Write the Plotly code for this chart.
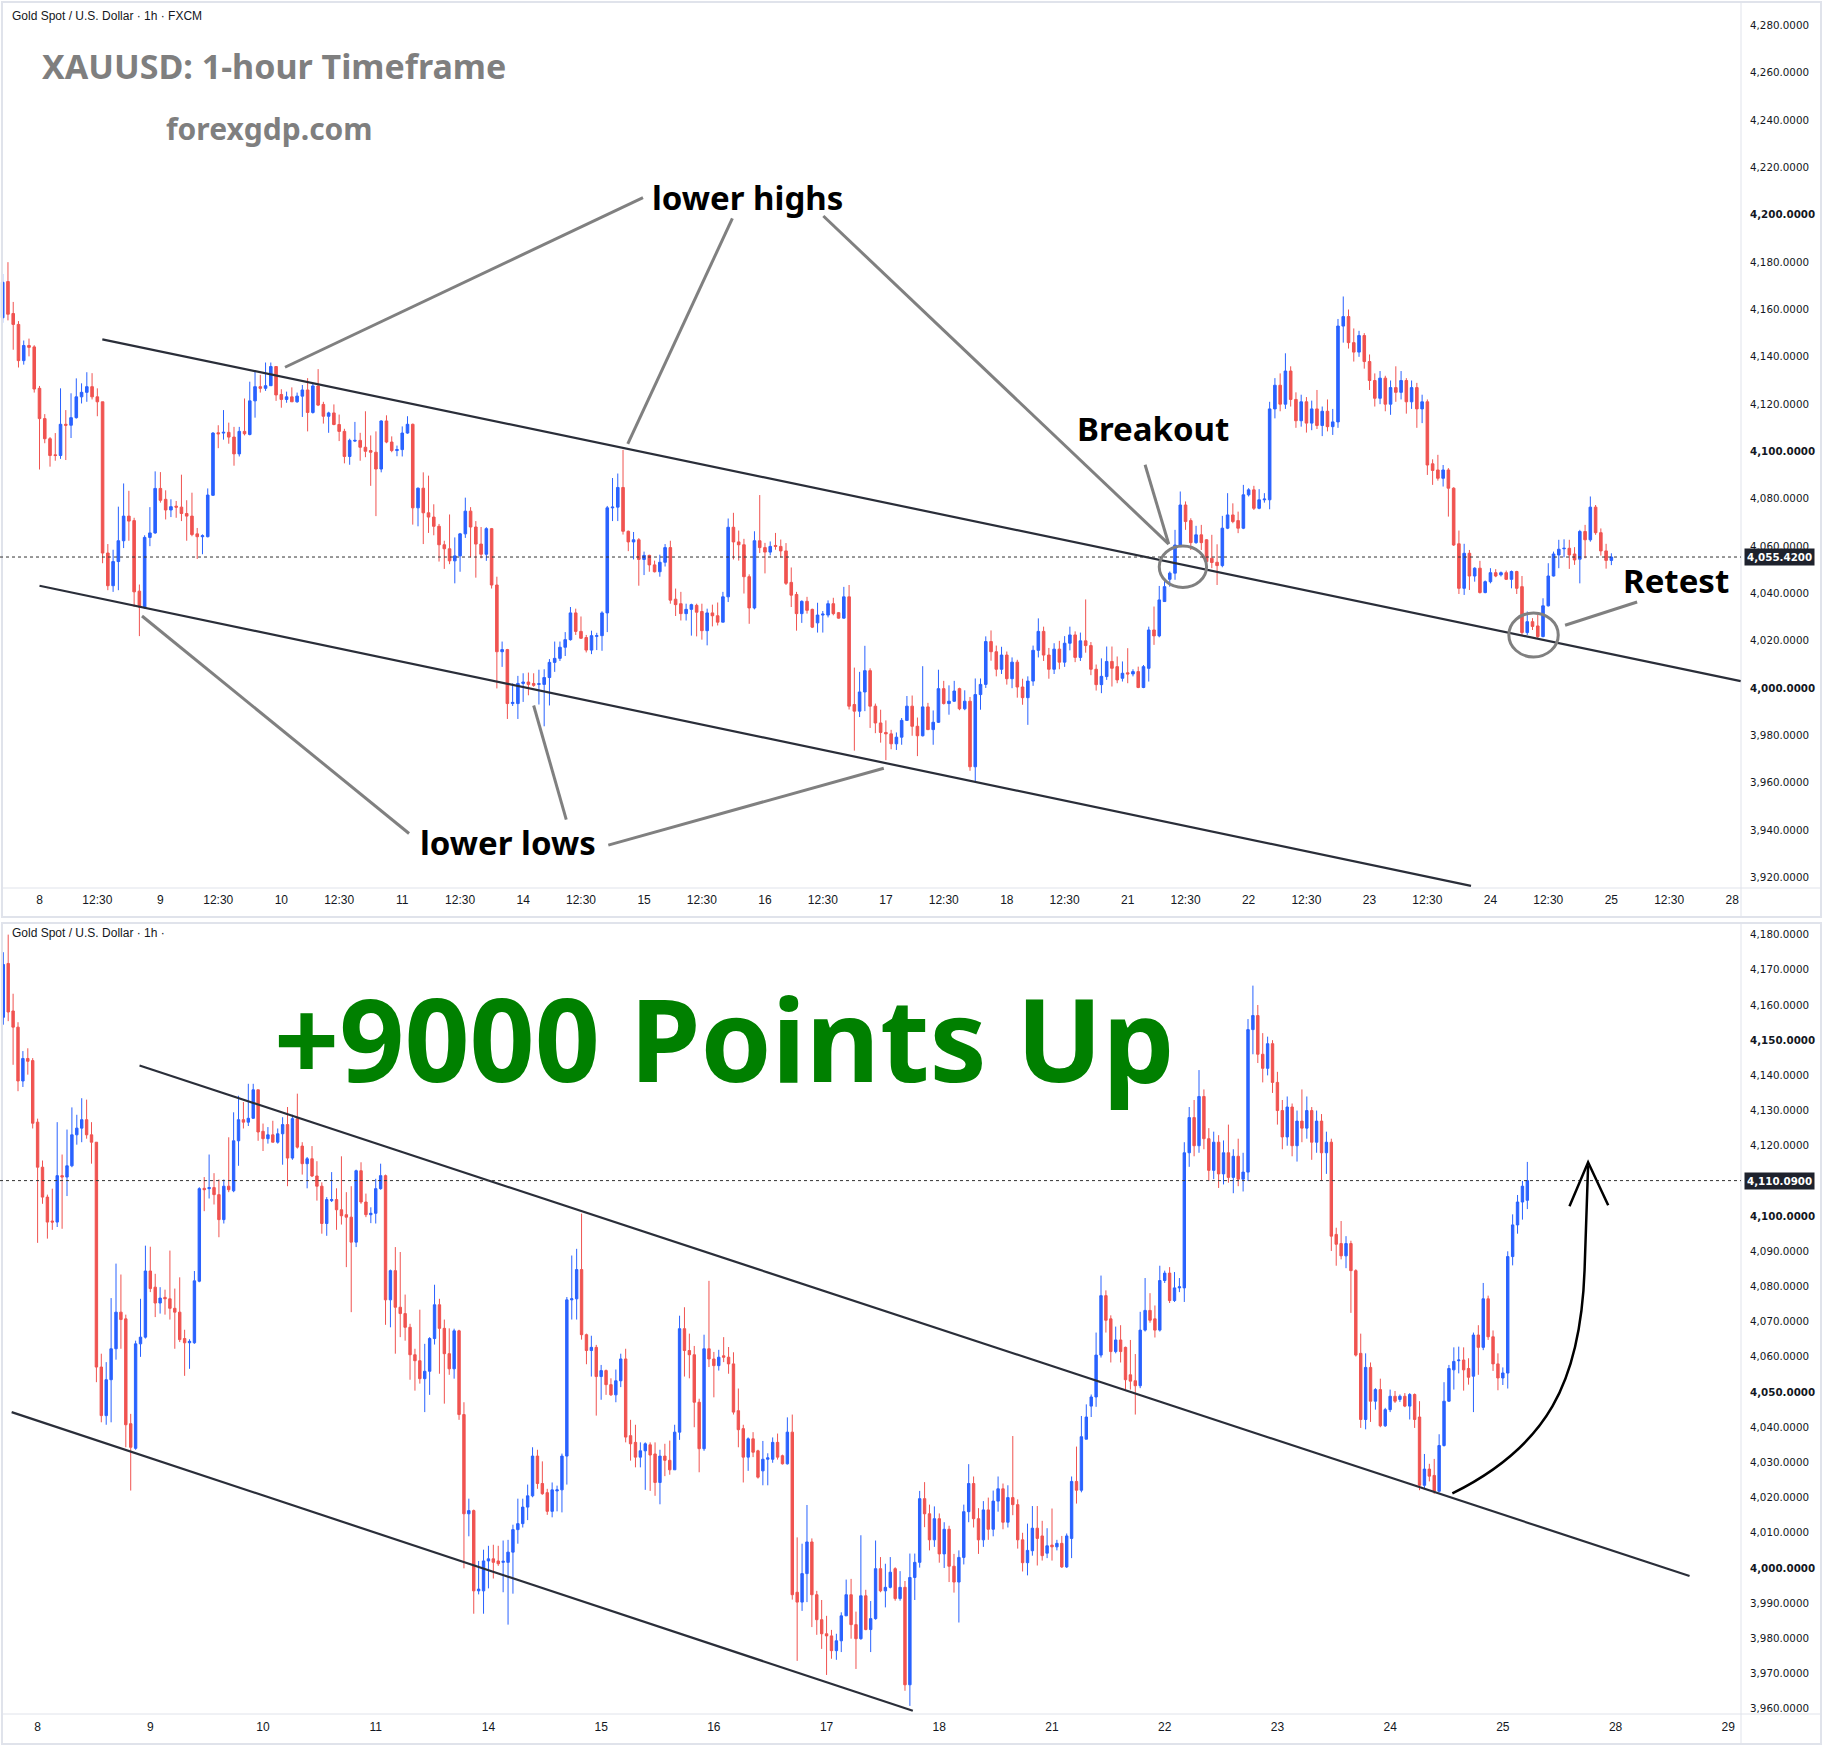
import plotly.graph_objects as go

# ---------------- DATA (1h XAUUSD candles, bar index 0 = first visible bar) ----------------
open_ = [4156.5,4171.8,4158.3,4153.7,4138.4,4144.8,4144.2,4126.7,4113.9,4105.4,
         4098.6,4098.3,4111.5,4111.1,4114.3,4123.1,4125.0,4127.4,4123.1,4121.0,
         4057.1,4043.3,4053.5,4062.3,4072.7,4070.8,4041.0,4034.0,4063.7,4065.6,
         4084.4,4079.8,4075.3,4076.9,4076.5,4073.8,4072.7,4065.2,4064.0,4064.0,
         4081.5,4107.9,4107.8,4108.1,4106.1,4099.0,4108.5,4107.2,4121.4,4127.4,
         4126.7,4127.8,4135.9,4124.1,4122.0,4123.1,4121.0,4123.4,4126.0,4116.5,
         4127.7,4119.9,4114.9,4116.3,4111.4,4108.5,4097.9,4104.4,4104.7,4101.8,
         4100.4,4099.7,4092.6,4112.9,4104.0,4100.4,4100.8,4107.8,4111.5,4076.2,
         4084.5,4074.1,4072.3,4068.4,4060.6,4058.9,4053.8,4055.9,4065.2,4074.8,
         4068.1,4060.9,4056.6,4067.4,4043.6,4015.4,4016.3,3993.5,3993.5,4002.0,
         4002.6,4002.0,4001.6,4001.6,4004.5,4010.9,4012.6,4017.3,4020.5,4031.8,
         4024.0,4021.4,4016.1,4021.9,4022.2,4031.8,4076.2,4076.5,4084.8,4066.3,
         4061.8,4062.7,4054.4,4056.1,4052.1,4049.2,4053.2,4059.4,4037.6,4035.7,
         4031.5,4033.3,4035.0,4032.4,4024.3,4031.8,4030.6,4027.9,4038.6,4068.0,
         4061.8,4060.6,4047.1,4033.9,4062.3,4059.4,4057.5,4060.3,4059.9,4058.0,
         4044.7,4039.6,4031.5,4036.7,4033.3,4027.6,4030.9,4030.9,4035.7,4031.9,
         4029.6,4038.6,3993.1,3990.3,3998.4,4007.4,3992.4,3985.3,3981.3,3980.7,
         3976.5,3979.3,3986.4,3992.4,3983.9,3979.9,3992.1,3982.5,3985.6,3999.8,
         3993.5,3994.5,3999.8,3991.3,3994.5,3966.8,3997.3,4001.6,4019.7,
         4015.4,4008.0,4014.0,4004.0,4011.0,4000.5,3996.0,4003.0,4016.0,4024.0,
         4014.0,4008.0,4016.5,4011.0,4019.0,4022.5,4013.0,4020.0,4018.0,4008.0,
         4001.5,4004.9,4011.3,4009.1,4004.2,4006.5,4006.0,4007.0,4000.3,4008.4,
         4024.6,4022.1,4036.6,4046.0,4048.6,4060.5,4077.4,4070.8,4061.5,4064.8,
         4062.7,4054.9,4053.2,4051.8,4067.6,4073.2,4070.8,4067.6,4081.7,4083.8,
         4076.0,4079.6,4079.6,4118.0,4128.0,4120.0,4134.0,4122.0,4113.0,4121.0,
         4112.0,4118.0,4111.0,4117.0,4110.5,4112.5,4153.0,4157.0,4146.0,4142.0,
         4149.0,4138.0,4130.0,4122.5,4131.0,4120.0,4127.0,4125.0,4130.0,4121.0,
         4127.0,4118.0,4121.0,4094.8,4092.2,4088.7,4092.2,4084.5,4061.0,4042.2,
         4057.0,4047.4,4050.7,4040.4,4045.0,4048.8,4047.9,4048.8,4046.0,4049.3,
         4042.9,4023.5,4028.1,4026.3,4021.8,4034.8,4047.4,4056.3,4058.9,4059.1,
         4056.7,4054.5,4066.2,4062.7,4076.5,4065.7,4058.0,4054.0,4055.4,4088.5,
         4097.5,4104.0,4104.5]
high_ = [4175.0,4180.0,4163.2,4155.1,4146.9,4147.7,4144.9,4127.7,4115.8,4106.1,
         4107.8,4126.7,4117.5,4124.6,4130.9,4128.8,4133.5,4133.1,4126.7,4121.0,
         4060.9,4058.5,4076.7,4086.5,4083.4,4072.0,4043.8,4064.6,4076.5,4091.6,
         4091.3,4083.6,4079.8,4079.1,4090.2,4079.4,4082.6,4067.7,4065.0,4084.4,
         4108.2,4111.1,4117.5,4112.2,4110.4,4110.4,4122.4,4129.5,4134.2,4132.4,
         4137.6,4137.6,4135.9,4126.3,4125.3,4127.1,4124.9,4128.1,4131.0,4128.8,
         4134.8,4121.0,4116.8,4119.9,4115.6,4109.6,4105.4,4112.5,4107.9,4117.0,
         4106.8,4108.5,4113.2,4115.3,4106.4,4102.5,4110.6,4114.9,4111.8,4084.8,
         4091.2,4089.8,4077.7,4069.4,4062.3,4073.4,4063.7,4065.6,4080.5,4076.5,
         4070.6,4068.1,4068.0,4067.7,4047.1,4019.7,4016.6,4002.0,4005.2,4006.3,
         4006.6,4006.3,4007.8,4008.0,4012.3,4019.7,4019.7,4023.7,4034.3,4033.6,
         4030.3,4022.5,4024.3,4023.4,4032.5,4077.0,4088.8,4090.7,4100.7,4066.6,
         4066.0,4063.4,4057.7,4056.4,4053.9,4056.4,4060.9,4062.3,4042.1,4040.7,
         4035.7,4035.7,4035.7,4035.7,4033.6,4035.3,4036.2,4040.7,4071.7,4074.1,
         4066.6,4063.1,4048.1,4066.3,4081.6,4061.4,4062.0,4065.6,4062.8,4061.3,
         4051.0,4040.7,4037.1,4038.6,4033.6,4036.1,4032.6,4037.1,4038.2,4032.2,
         4042.8,4043.6,4008.7,4006.9,4017.9,4008.4,3993.5,3990.9,3986.4,3982.4,
         3981.3,3987.4,3996.7,3996.9,3987.6,4009.3,3993.8,3990.6,4007.8,4003.1,
         4001.2,4003.1,4000.2,3999.1,3996.3,4004.1,4004.1,4021.9,4024.4,
         4018.0,4017.5,4015.5,4013.0,4012.0,4004.0,4005.0,4018.0,4029.5,4026.0,
         4017.0,4019.0,4020.0,4022.0,4026.0,4024.0,4023.5,4037.5,4019.5,4010.0,
         4012.6,4017.6,4017.6,4013.4,4011.3,4016.9,4008.0,4009.1,4009.8,4026.0,
         4034.5,4043.2,4046.5,4049.3,4066.9,4083.1,4078.9,4071.8,4068.6,4069.0,
         4062.9,4064.8,4060.8,4072.8,4082.4,4078.1,4074.6,4085.9,4084.5,4085.5,
         4084.1,4082.4,4121.0,4131.0,4133.0,4141.5,4136.0,4125.0,4124.0,4123.0,
         4121.5,4126.0,4119.0,4122.0,4118.0,4156.0,4165.5,4160.0,4152.0,4151.0,
         4150.0,4141.0,4133.0,4134.0,4132.0,4130.0,4136.0,4134.0,4131.0,4130.0,
         4129.0,4124.0,4122.0,4096.7,4098.6,4094.3,4093.0,4084.9,4066.6,4061.0,
         4058.4,4051.1,4053.8,4045.5,4050.7,4050.3,4049.3,4049.7,4049.7,4049.6,
         4047.4,4032.4,4029.6,4031.0,4038.0,4052.8,4057.7,4062.7,4062.9,4062.7,
         4059.6,4066.9,4069.0,4081.0,4077.4,4067.5,4061.0,4057.0,4090.0,4100.5,
         4106.0,4110.0,4115.4]
low_ = [4154.4,4155.4,4143.0,4135.5,4136.7,4140.2,4124.9,4092.4,4103.5,4093.6,
        4096.1,4096.9,4096.4,4105.7,4113.9,4120.3,4121.0,4122.0,4114.9,4052.8,
        4041.4,4040.7,4041.4,4059.2,4062.3,4034.3,4022.0,4033.6,4060.0,4065.2,
        4078.4,4071.3,4072.3,4072.0,4070.6,4062.3,4064.2,4054.6,4056.6,4063.7,
        4081.2,4101.4,4105.0,4103.3,4094.0,4097.9,4106.8,4106.8,4114.3,4124.9,
        4125.6,4127.7,4121.4,4118.5,4120.6,4121.0,4120.6,4114.6,4108.5,4116.0,
        4119.2,4111.8,4107.9,4111.1,4104.4,4095.0,4094.4,4104.0,4096.1,4097.6,
        4085.5,4072.7,4091.2,4103.5,4099.7,4098.0,4097.9,4107.5,4069.1,4068.4,
        4060.9,4065.6,4064.6,4053.5,4050.4,4052.4,4044.3,4049.2,4063.5,4055.2,
        4046.7,4054.9,4053.8,4042.1,3999.9,4009.0,3987.0,3992.5,3987.0,3994.2,
        3997.0,4000.6,3993.1,3983.9,3992.7,4006.9,4011.5,4013.6,4020.1,4022.5,
        4020.8,4015.1,4014.4,4016.1,4015.8,4023.7,4070.6,4070.6,4064.9,4057.9,
        4054.4,4043.3,4047.8,4049.2,4048.9,4047.1,4051.4,4035.7,4030.5,4028.6,
        4028.6,4022.2,4021.9,4020.5,4018.1,4026.1,4026.5,4027.9,4036.4,4054.4,
        4053.9,4040.0,4027.2,4033.3,4057.1,4048.5,4056.1,4058.5,4055.2,4043.6,
        4034.3,4024.3,4027.6,4031.5,4025.4,4023.5,4023.5,4029.9,4030.8,4029.4,
        4029.4,3991.0,3973.6,3987.8,3990.3,3983.2,3981.0,3977.0,3969.6,3974.2,
        3973.9,3976.1,3986.4,3979.9,3971.3,3979.6,3982.3,3976.1,3985.3,3993.1,
        3988.8,3994.2,3990.7,3990.7,3965.1,3960.8,3990.9,4000.1,4011.6,
        4005.0,4006.0,4001.5,4000.0,3996.0,3993.0,3984.5,4001.0,4013.0,4011.5,
        4004.0,4006.0,4008.0,4009.0,4016.0,4011.0,4011.5,4015.0,4005.5,3999.0,
        3997.9,4003.5,4000.7,4002.1,4002.8,4002.1,4005.0,4000.0,4000.0,4002.8,
        4018.3,4021.5,4036.6,4042.9,4045.8,4059.8,4066.9,4058.4,4061.0,4058.4,
        4050.7,4050.7,4043.6,4051.1,4067.2,4069.7,4065.5,4067.2,4081.0,4075.3,
        4075.6,4078.4,4075.6,4114.0,4117.0,4118.0,4119.0,4110.0,4110.5,4108.0,
        4109.0,4109.5,4106.5,4108.5,4107.0,4110.0,4146.0,4143.5,4138.0,4140.0,
        4135.0,4126.0,4119.0,4120.0,4117.0,4115.5,4121.0,4122.0,4116.0,4118.0,
        4110.0,4112.0,4090.1,4085.9,4087.7,4085.2,4072.5,4060.1,4039.8,4039.4,
        4041.5,4045.0,4040.0,4040.1,4044.3,4046.9,4047.2,4045.7,4042.2,4039.8,
        4022.1,4022.5,4024.6,4021.1,4021.5,4034.5,4047.2,4050.7,4055.3,4050.4,
        4052.1,4044.3,4054.9,4061.9,4064.8,4056.0,4050.5,4052.0,4051.0,4086.0,
        4095.0,4099.0,4102.0]
close_ = [4171.5,4158.0,4153.7,4138.4,4144.8,4144.0,4126.4,4113.9,4105.4,4098.3,
          4098.3,4111.5,4111.1,4114.3,4123.1,4125.0,4127.4,4123.1,4121.0,4057.1,
          4043.3,4053.5,4062.3,4072.7,4070.6,4040.7,4034.3,4063.7,4065.6,4084.4,
          4079.4,4075.3,4076.7,4076.5,4073.8,4072.7,4064.9,4064.0,4064.4,4081.6,
          4107.8,4107.5,4108.1,4106.1,4099.0,4108.5,4107.5,4121.4,4127.4,4126.7,
          4127.8,4135.9,4123.9,4122.0,4123.1,4121.0,4123.4,4126.0,4116.5,4127.7,
          4119.6,4114.9,4116.3,4111.4,4108.5,4097.9,4104.7,4104.7,4101.8,4100.1,
          4099.7,4092.6,4112.9,4104.0,4100.4,4100.8,4107.8,4111.5,4076.2,4084.5,
          4074.1,4072.3,4068.4,4060.6,4058.9,4053.8,4055.9,4065.2,4074.8,4068.1,
          4060.9,4056.6,4067.4,4043.6,4015.4,4016.3,3993.5,3994.0,4002.0,4002.6,
          4001.6,4001.2,4001.9,4004.5,4010.9,4012.6,4017.3,4020.5,4031.8,4024.0,
          4021.1,4016.1,4022.2,4022.2,4031.8,4076.2,4076.5,4084.8,4066.3,4061.8,
          4062.7,4054.4,4056.1,4052.1,4049.2,4053.2,4059.4,4037.2,4035.3,4031.5,
          4033.3,4035.3,4032.1,4024.3,4031.8,4030.6,4027.9,4038.6,4068.0,4061.8,
          4060.6,4047.1,4033.9,4062.3,4059.4,4057.5,4059.9,4059.9,4058.0,4044.3,
          4039.3,4031.5,4036.7,4032.9,4025.8,4030.9,4031.3,4035.7,4031.5,4029.6,
          4038.6,3992.4,3990.3,3998.4,4007.4,3992.4,3985.3,3981.3,3980.7,3976.5,
          3979.3,3986.4,3992.4,3983.9,3979.9,3992.1,3982.5,3985.6,3999.8,3993.5,
          3994.5,3998.8,3991.3,3994.5,3966.8,3997.3,4001.6,4019.7,4015.4,
          4008.0,4014.0,4004.0,4011.0,4000.5,3996.0,4003.0,4016.0,4024.0,4014.0,
          4008.0,4016.5,4011.0,4019.0,4022.5,4013.0,4020.0,4018.0,4008.0,4001.5,
          4005.0,4011.3,4008.4,4003.5,4006.3,4006.0,4007.0,4000.3,4009.1,4024.6,
          4022.1,4037.3,4042.9,4048.6,4060.5,4077.4,4070.4,4061.5,4064.8,4061.5,
          4053.5,4053.1,4051.8,4067.6,4073.2,4070.4,4067.6,4081.7,4083.8,4076.0,
          4079.6,4079.9,4118.0,4128.0,4120.0,4134.0,4122.0,4113.0,4121.0,4112.0,
          4118.0,4111.0,4117.0,4110.5,4112.5,4153.0,4157.0,4146.0,4142.0,4149.0,
          4138.0,4130.0,4122.5,4131.0,4120.0,4127.0,4125.0,4130.0,4121.0,4127.0,
          4118.0,4121.0,4094.3,4092.0,4088.7,4092.2,4084.5,4060.5,4042.2,4057.0,
          4047.4,4050.7,4040.4,4045.0,4048.8,4047.4,4048.8,4046.0,4049.3,4042.2,
          4023.5,4028.1,4026.1,4021.8,4034.8,4047.4,4056.7,4058.7,4059.1,4056.3,
          4054.2,4066.2,4062.7,4076.5,4065.7,4058.0,4054.0,4055.42,4088.5,4097.5,
          4104.0,4108.5,4110.09]

day_labels = ["8", "9", "10", "11", "14", "15", "16", "17", "18", "21", "22", "23", "24", "25", "28", "29"]
BARS_PER_DAY = 23
FIRST_DAY_BAR = 7
MIDDAY_OFFSET = 11
TOP_LAST_BAR = 306
top_last_price = 4055.42
bottom_last_price = 4110.09
top_price_ticks = list(range(3920, 4281, 20))
bottom_price_ticks = list(range(3960, 4181, 10))

# drawings, in (bar index, price)
top_channel_upper = [(18.95, 4147.4), (330.6, 4003.0)]
top_channel_lower = [(7.0, 4043.3), (279.3, 3916.5)]
bottom_channel_upper = [(27.8, 4142.8), (344.1, 3997.7)]
bottom_channel_lower = [(1.7, 4044.3), (185.6, 3959.4)]
lower_highs_pointers = [[(121.8, 4207.3), (53.7, 4135.6)],
                        [(138.8, 4198.5), (118.9, 4103.2)],
                        [(156.1, 4199.5), (221.8, 4060.9)]]
lower_lows_pointers = [[(77.3, 3938.6), (26.5, 4030.5)],
                       [(107.2, 3944.5), (101.0, 3992.7)],
                       [(115.2, 3933.7), (167.6, 3966.2)]]
breakout_pointer = [(217.3, 4094.4), (221.8, 4060.9)]
retest_pointer = [(310.9, 4036.4), (297.2, 4026.6)]
breakout_circle = (224.5, 4051.3, 4.5, 8.8)
retest_circle = (291.2, 4022.5, 4.7, 9.3)
arrow_curve = [(295.7, 4021.2), (314.9, 4034.4), (322.0, 4052.6), (322.7, 4085.6), (323.4, 4114.4)]
arrow_head = [(319.6, 4102.8), (323.4, 4115.3), (327.5, 4103.1)]

# ---------------- FIGURE ----------------
W, H = 1823, 1746
RED = "#f05350"
BLUE = "#2962ff"
n_all = len(open_)
xs = list(range(n_all))
n_top = min(n_all, TOP_LAST_BAR + 1)

def candle(n, xa, ya):
    return go.Candlestick(
        x=xs[:n], open=open_[:n], high=high_[:n], low=low_[:n], close=close_[:n],
        increasing=dict(line=dict(color=BLUE, width=1), fillcolor=BLUE),
        decreasing=dict(line=dict(color=RED, width=1), fillcolor=RED),
        whiskerwidth=0, xaxis=xa, yaxis=ya, showlegend=False, hoverinfo="skip")

fig = go.Figure()
fig.add_trace(candle(n_top, "x", "y"))
fig.add_trace(candle(n_all, "x2", "y2"))

def px_x(X):
    return X / W

def px_y(Y):
    return 1 - Y / H

PLOT_RIGHT = 1741
top_dom = [px_y(887), px_y(3)]
bot_dom = [px_y(1714), px_y(923)]

day_pos = [FIRST_DAY_BAR + k * BARS_PER_DAY for k in range(len(day_labels))]
top_tickvals, top_ticktext = [], []
for k, lab in enumerate(day_labels[:15]):
    top_tickvals.append(day_pos[k]); top_ticktext.append(lab)
    if k < 14:
        top_tickvals.append(day_pos[k] + MIDDAY_OFFSET); top_ticktext.append("12:30")

tick_font = dict(family="Liberation Sans Narrow, Arial Narrow, Liberation Sans", size=12, color="#131722")
price_font = dict(family="DejaVu Sans", size=10.3, color="#131722")

def fmt_price(v, bold):
    s = f"{v:,.4f}"
    return f"<b>{s}</b>" if bold else s

fig.update_layout(
    width=W, height=H, margin=dict(l=0, r=0, t=0, b=0),
    paper_bgcolor="white", plot_bgcolor="white",
    xaxis=dict(domain=[0, px_x(PLOT_RIGHT)], range=[-0.514, 330.66], anchor="y",
               tickvals=top_tickvals, ticktext=top_ticktext, tickfont=tick_font,
               showgrid=False, zeroline=False, showline=False, ticks="",
               rangeslider=dict(visible=False), ticklabelstandoff=4),
    yaxis=dict(domain=top_dom, range=[3916.0, 4289.5], anchor="x", side="right",
               tickvals=top_price_ticks,
               ticktext=[fmt_price(v, v % 100 == 0) for v in top_price_ticks],
               tickfont=price_font, showgrid=False, zeroline=False, showline=False,
               ticks="outside", ticklen=6, tickcolor="rgba(0,0,0,0)"),
    xaxis2=dict(domain=[0, px_x(PLOT_RIGHT)], range=[-0.673, 354.6], anchor="y2",
                tickvals=day_pos, ticktext=day_labels, tickfont=tick_font,
                showgrid=False, zeroline=False, showline=False, ticks="",
                rangeslider=dict(visible=False), ticklabelstandoff=4),
    yaxis2=dict(domain=bot_dom, range=[3958.5, 4183.3], anchor="x2", side="right",
                tickvals=bottom_price_ticks,
                ticktext=[fmt_price(v, v % 50 == 0) for v in bottom_price_ticks],
                tickfont=price_font, showgrid=False, zeroline=False, showline=False,
                ticks="outside", ticklen=6, tickcolor="rgba(0,0,0,0)"),
)

shapes = []
BORDER = "#e0e3eb"
# pane frames
for (y0, y1, ysep) in [(2, 917, 888), (923, 1744, 1714)]:
    shapes.append(dict(type="rect", xref="paper", yref="paper", x0=px_x(2), x1=px_x(1821),
                       y0=px_y(y1), y1=px_y(y0), line=dict(color=BORDER, width=2)))
    shapes.append(dict(type="line", xref="paper", yref="paper", x0=px_x(2), x1=px_x(1821),
                       y0=px_y(ysep), y1=px_y(ysep), line=dict(color=BORDER, width=1)))
    shapes.append(dict(type="line", xref="paper", yref="paper", x0=px_x(PLOT_RIGHT), x1=px_x(PLOT_RIGHT),
                       y0=px_y(y1), y1=px_y(y0), line=dict(color=BORDER, width=1)))

def seg(p, q, xa, ya, color, width):
    return dict(type="line", xref=xa, yref=ya, x0=p[0], y0=p[1], x1=q[0], y1=q[1],
                line=dict(color=color, width=width))

TREND = "#2a2e39"
GRAY = "#808080"
shapes.append(seg(*top_channel_upper, "x", "y", TREND, 2.2))
shapes.append(seg(*top_channel_lower, "x", "y", TREND, 2.2))
shapes.append(seg(*bottom_channel_upper, "x2", "y2", TREND, 2.2))
shapes.append(seg(*bottom_channel_lower, "x2", "y2", TREND, 2.2))
for p, q in lower_highs_pointers + lower_lows_pointers + [breakout_pointer, retest_pointer]:
    shapes.append(seg(p, q, "x", "y", GRAY, 3))
for cx, cy, rx, ry in [breakout_circle, retest_circle]:
    shapes.append(dict(type="circle", xref="x", yref="y", x0=cx - rx, x1=cx + rx,
                       y0=cy - ry, y1=cy + ry, line=dict(color=GRAY, width=3)))
# price lines
shapes.append(dict(type="line", xref="x domain", yref="y", x0=0, x1=1, y0=top_last_price, y1=top_last_price,
                   line=dict(color="#333333", width=1, dash="dot")))
shapes.append(dict(type="line", xref="x2 domain", yref="y2", x0=0, x1=1, y0=bottom_last_price, y1=bottom_last_price,
                   line=dict(color="#333333", width=1, dash="dot")))
# curved arrow
a = arrow_curve
path = (f"M {a[0][0]},{a[0][1]} C {a[1][0]},{a[1][1]} {a[2][0]},{a[2][1]} {a[3][0]},{a[3][1]} "
        f"L {a[4][0]},{a[4][1]}")
shapes.append(dict(type="path", xref="x2", yref="y2", path=path, line=dict(color="black", width=2.5)))
h = arrow_head
shapes.append(dict(type="path", xref="x2", yref="y2",
                   path=f"M {h[0][0]},{h[0][1]} L {h[1][0]},{h[1][1]} L {h[2][0]},{h[2][1]}",
                   line=dict(color="black", width=2.5)))
fig.update_layout(shapes=shapes)

ann = []
TF = "Noto Sans"
def txt(x, y, s, size, color, xa="x", ya="y", xanchor="center"):
    ann.append(dict(x=x, y=y, xref=xa, yref=ya, text=s, showarrow=False, xanchor=xanchor,
                    yanchor="middle", font=dict(family=TF, size=size, color=color)))

txt(51.7, 4262.8, "<b>XAUUSD: 1-hour Timeframe</b>", 34, "#7f7f7f")
txt(50.8, 4236.3, "<b>forexgdp.com</b>", 30, "#7f7f7f")
txt(141.7, 4207.3, "<b>lower highs</b>", 33, "black")
txt(96.1, 3934.7, "<b>lower lows</b>", 33, "black")
txt(218.9, 4109.6, "<b>Breakout</b>", 33, "black")
txt(318.2, 4045.7, "<b>Retest</b>", 33, "black")
txt(147.2, 4150.7, "<b>+9000 Points Up</b>", 114, "#008000", "x2", "y2")

for yy, s in [(16, "Gold Spot / U.S. Dollar · 1h · FXCM"), (933, "Gold Spot / U.S. Dollar · 1h ·")]:
    ann.append(dict(x=px_x(10), y=px_y(yy), xref="paper", yref="paper", text=s, showarrow=False,
                    xanchor="left", yanchor="middle",
                    font=dict(family="Liberation Sans", size=12, color="#131722")))

for ya, val in [("y", top_last_price), ("y2", bottom_last_price)]:
    xa = "x domain" if ya == "y" else "x2 domain"
    ann.append(dict(x=1, y=val, xref=xa, yref=ya, text=f"<b>{val:,.4f}</b>", showarrow=False,
                    xanchor="left", yanchor="middle", xshift=3, bgcolor="#1e222d",
                    borderpad=2, font=dict(family="DejaVu Sans", size=10.3, color="white")))
fig.update_layout(annotations=ann)

fig.write_html("out.html", config={"displayModeBar": False},
               post_script="document.body.style.margin='0px';document.body.style.overflow='hidden';")
